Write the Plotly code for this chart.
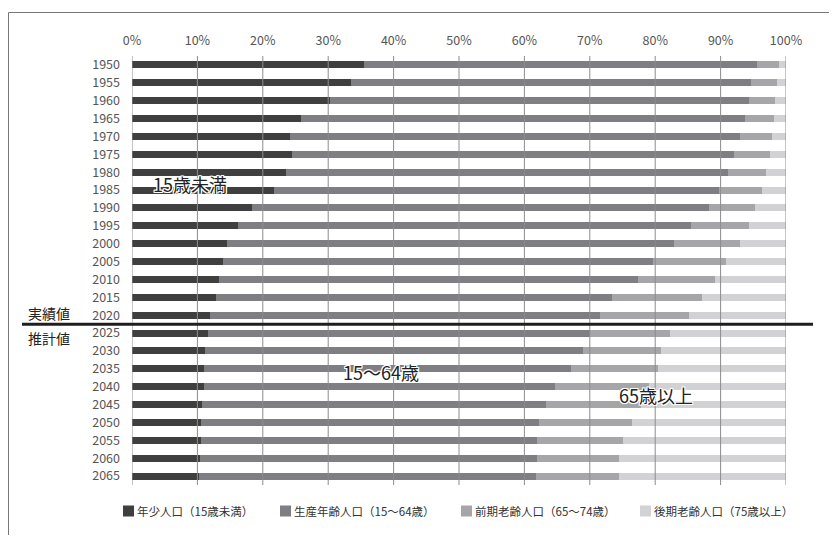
import plotly.graph_objects as go

years = ["1950", "1955", "1960", "1965", "1970", "1975", "1980", "1985", "1990", "1995",
         "2000", "2005", "2010", "2015", "2020", "2025", "2030", "2035", "2040", "2045",
         "2050", "2055", "2060", "2065"]
young = [35.5, 33.5, 30.2, 25.8, 24.1, 24.4, 23.5, 21.7, 18.4, 16.2,
         14.6, 13.9, 13.3, 12.8, 12.0, 11.6, 11.1, 11.0, 11.0, 10.7,
         10.5, 10.5, 10.4, 10.2]
working = [60.0, 61.2, 64.1, 67.9, 68.8, 67.6, 67.6, 68.1, 69.8, 69.3,
           68.2, 65.8, 64.0, 60.6, 59.6, 58.5, 57.9, 56.2, 53.7, 52.6,
           51.8, 51.5, 51.6, 51.5]
old_early = [3.4, 3.9, 4.0, 4.4, 5.0, 5.5, 5.9, 6.5, 7.1, 8.9,
             10.1, 11.2, 11.8, 13.8, 13.6, 12.2, 11.9, 13.3, 14.3, 14.6,
             14.1, 13.0, 12.5, 12.8]
old_late = [1.1, 1.4, 1.7, 1.9, 2.1, 2.5, 3.0, 3.7, 4.7, 5.6,
            7.1, 9.1, 10.9, 12.8, 14.8, 17.7, 19.1, 19.5, 21.0, 22.1,
            23.6, 25.0, 25.5, 25.5]
series_names = ["年少人口（15歳未満）", "生産年齢人口（15〜64歳）", "前期老齢人口（65〜74歳）", "後期老齢人口（75歳以上）"]
series_colors = ["#3f3f3f", "#7f7f83", "#a6a6a9", "#d2d2d4"]
tick_vals = [0, 10, 20, 30, 40, 50, 60, 70, 80, 90, 100]
tick_text = [f"{v}%" for v in tick_vals]

# page has an 8px body margin; work in screen pixels and convert
OFF = 8
W, H = 837 - 2 * OFF, 543 - 2 * OFF
SL, SR, ST, SB = 132, 786, 56, 485   # plot area in screen px
ML, MT = SL - OFF, ST - OFF
MR, MB = (W + OFF) - SR, (H + OFF) - SB
PW, PH = SR - SL, SB - ST


def px(xs):
    return (xs - SL) / PW


def py(ys):
    return (SB - ys) / PH


FONT = "Noto Sans CJK JP"
fig = go.Figure()
for name, vals, col in zip(series_names, [young, working, old_early, old_late], series_colors):
    fig.add_trace(go.Bar(y=years, x=vals, name=name, orientation="h",
                         marker=dict(color=col, line=dict(width=0)), showlegend=False))

shapes = []
for v in tick_vals:
    shapes.append(dict(type="line", xref="x", yref="paper", x0=v, x1=v, y0=0, y1=1,
                       line=dict(color="#8c8c8c", width=1), layer="above"))
# separator between actual and projected
shapes.append(dict(type="line", xref="paper", yref="y", x0=px(22), x1=px(813), y0=14.5, y1=14.5,
                   line=dict(color="#1e1e1e", width=3), layer="above"))
# outer frame
shapes.append(dict(type="rect", xref="paper", yref="paper", x0=px(8.5), x1=px(900), y0=py(12.5), y1=py(600),
                   line=dict(color="#777777", width=1), fillcolor="rgba(0,0,0,0)", layer="below"))

halo = "1px 1px 0 #fff, -1px -1px 0 #fff, 1px -1px 0 #fff, -1px 1px 0 #fff, 0 1px 0 #fff, 0 -1px 0 #fff, 1px 0 0 #fff, -1px 0 0 #fff"
annotations = [
    dict(text="15歳未満", x=px(190), y=py(184), font=dict(size=18, color="#222", family=FONT, shadow=halo)),
    dict(text="15〜64歳", x=px(381), y=py(372), font=dict(size=18, color="#222", family=FONT, shadow=halo)),
    dict(text="65歳以上", x=px(656), y=py(395), font=dict(size=18, color="#222", family=FONT, shadow=halo)),
    dict(text="実績値", x=px(49), y=py(313), font=dict(size=14, color="#222", family=FONT)),
    dict(text="推計値", x=px(49), y=py(338), font=dict(size=14, color="#222", family=FONT)),
]

# custom legend
leg_x = [123, 280, 461, 640]
for name, col, lx in zip(series_names, series_colors, leg_x):
    shapes.append(dict(type="rect", xref="paper", yref="paper", x0=px(lx), x1=px(lx + 11),
                       y0=py(516.5), y1=py(505.5), fillcolor=col, line=dict(width=0)))
    annotations.append(dict(text=name, x=px(lx + 11.5), y=py(511), xanchor="left",
                            font=dict(size=11.5, color="#333", family=FONT)))

for a in annotations:
    a.update(xref="paper", yref="paper", showarrow=False)
    a.setdefault("xanchor", "center")
    a.setdefault("yanchor", "middle")

fig.update_layout(
    width=W, height=H, barmode="stack", bargap=0.61,
    margin=dict(l=ML, r=MR, t=MT, b=MB),
    paper_bgcolor="white", plot_bgcolor="white",
    font=dict(family=FONT, color="#444"),
    xaxis=dict(side="top", range=[0, 100], tickmode="array", tickvals=tick_vals, ticktext=tick_text,
               showgrid=False, zeroline=False, showline=False, ticks="",
               ticklabelstandoff=8, tickfont=dict(size=12.5, color="#555", family=FONT)),
    yaxis=dict(type="category", autorange="reversed", showgrid=False, zeroline=False,
               showline=False, ticks="", ticklabelstandoff=11,
               tickfont=dict(size=12.5, color="#555", family=FONT)),
    shapes=shapes, annotations=annotations,
)
fig.write_html("out.html")
